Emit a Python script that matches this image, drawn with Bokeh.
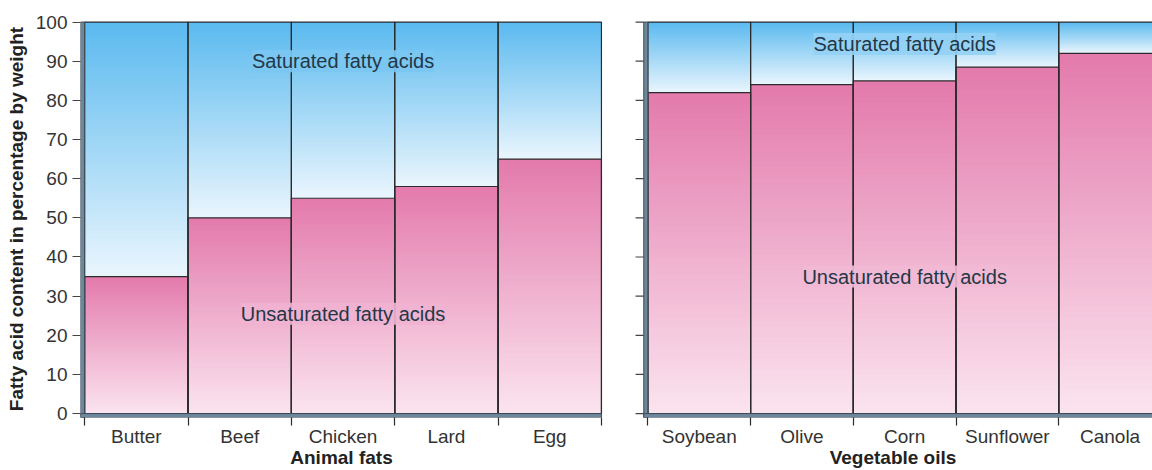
import numpy as np
from bokeh.plotting import figure
from bokeh.models import FixedTicker, Label
from bokeh.layouts import row
from bokeh.embed import file_html
from bokeh.resources import INLINE

# ---- data ----
animal_foods = ["Butter", "Beef", "Chicken", "Lard", "Egg"]
animal_unsaturated = [35, 50, 55, 58, 65]
veg_foods = ["Soybean", "Olive", "Corn", "Sunflower", "Canola"]
veg_unsaturated = [82, 84, 85, 88.5, 92]
y_ticks = [0, 10, 20, 30, 40, 50, 60, 70, 80, 90, 100]
y_title = "Fatty acid content in percentage by weight"
animal_title = "Animal fats"
veg_title = "Vegetable oils"
sat_text = "Saturated fatty acids"
unsat_text = "Unsaturated fatty acids"

# ---- style ----
FONT = "Liberation Sans"
BLUE_TOP = (0x5a, 0xb9, 0xef)
BLUE_BOT = (0xea, 0xf6, 0xfd)
PINK_TOP = (0xe3, 0x7a, 0xac)
PINK_BOT = (0xfb, 0xe4, 0xef)
AXIS_COL = "#6f879b"
EDGE_COL = "#3b4b59"
DARK = "#2b2b2b"
BAND = 0.04      # thickness of the left frame band, in x units
TICK_W = 0.08    # length of hand-drawn ticks (right panel), in x units


def mix(c1, c2, t):
    return "#%02x%02x%02x" % tuple(int(round(a + (b - a) * t)) for a, b in zip(c1, c2))


def make_panel(foods, unsat, title, width, x_start, x_end, min_left, min_right,
               labels, axis_y):
    p = figure(width=width, height=470, x_range=(x_start, x_end), y_range=(-1, 100.4),
               output_backend="svg", toolbar_location=None,
               y_axis_location="left" if axis_y else None,
               min_border_left=min_left, min_border_right=min_right,
               min_border_top=20, min_border_bottom=0)
    p.outline_line_color = None
    p.grid.visible = False
    p.background_fill_color = "white"

    N = 60
    L, R, B, T, C = [], [], [], [], []
    for i, v in enumerate(unsat):
        s = 100 - v
        # strips drawn top-down of each segment so overlaps stay hidden
        for k in range(N):
            L.append(i); R.append(i + 1)
            B.append(v * k / N); T.append(min(v, v * (k + 1) / N + 0.35))
            C.append(mix(PINK_BOT, PINK_TOP, (k + 0.5) / N))
        for k in range(N):
            L.append(i); R.append(i + 1)
            B.append(v + s * k / N); T.append(min(100, v + s * (k + 1) / N + 0.35))
            C.append(mix(BLUE_BOT, BLUE_TOP, (k + 0.5) / N))
    p.quad(left=L, right=R, bottom=B, top=T, fill_color=C, line_color=None)

    n = len(foods)
    idx = list(range(n))
    p.quad(left=idx, right=[i + 1 for i in idx], bottom=[0] * n, top=unsat,
           fill_color=None, line_color=DARK, line_width=1.2)
    p.quad(left=idx, right=[i + 1 for i in idx], bottom=[0] * n, top=[100] * n,
           fill_color=None, line_color=DARK, line_width=1.2)

    # frame bands (left and bottom)
    p.quad(left=[-BAND], right=[0], bottom=[-1], top=[100],
           fill_color=AXIS_COL, line_color=EDGE_COL, line_width=1)
    p.quad(left=[-BAND], right=[n], bottom=[-1], top=[0],
           fill_color=AXIS_COL, line_color=EDGE_COL, line_width=1)

    # x axis: labels at centres, ticks at boundaries
    xa = p.xaxis[0]
    xa.ticker = FixedTicker(ticks=[i + 0.5 for i in idx], minor_ticks=list(range(n + 1)))
    xa.major_label_overrides = {i + 0.5: f for i, f in enumerate(foods)}
    xa.axis_line_color = None
    xa.major_tick_line_color = None
    xa.major_tick_out = 0
    xa.major_tick_in = 0
    xa.minor_tick_out = 8
    xa.minor_tick_in = 0
    xa.minor_tick_line_color = DARK
    xa.minor_tick_line_width = 1.2
    xa.major_label_standoff = 0
    xa.major_label_text_font = FONT
    xa.major_label_text_font_size = "19px"
    xa.major_label_text_color = "#333333"
    xa.axis_label = title
    xa.axis_label_text_font = FONT
    xa.axis_label_text_font_size = "19px"
    xa.axis_label_text_font_style = "bold"
    xa.axis_label_text_color = "#222222"
    xa.axis_label_standoff = -3

    if axis_y:
        ya = p.yaxis[0]
        ya.ticker = FixedTicker(ticks=y_ticks)
        ya.axis_line_color = None
        ya.major_tick_out = 8
        ya.major_tick_in = 0
        ya.major_tick_line_color = "#444444"
        ya.major_tick_line_width = 1.2
        ya.major_label_text_font = FONT
        ya.major_label_text_font_size = "19px"
        ya.major_label_text_color = "#333333"
        ya.major_label_standoff = 5
        ya.axis_label = y_title
        ya.axis_label_text_font = FONT
        ya.axis_label_text_font_size = "19px"
        ya.axis_label_text_font_style = "bold"
        ya.axis_label_text_color = "#222222"
        ya.axis_label_standoff = 6
    else:
        # unlabelled ticks drawn at the y tick values
        p.segment(x0=[-BAND - TICK_W] * len(y_ticks), x1=[-BAND] * len(y_ticks),
                  y0=y_ticks, y1=y_ticks, line_color="#444444", line_width=1.2)

    for (x, y, txt, bg) in labels:
        p.add_layout(Label(x=x, y=y, text=txt, text_align="center", text_baseline="middle",
                           text_font=FONT, text_font_size="20px", text_color="#243746",
                           background_fill_color=bg, background_fill_alpha=0.9))
    return p


p1 = make_panel(animal_foods, animal_unsaturated, animal_title,
                width=633, x_start=-BAND, x_end=5.01, min_left=80, min_right=31,
                labels=[(2.5, 90, sat_text, mix(BLUE_BOT, BLUE_TOP, 0.78)),
                        (2.5, 25.5, unsat_text, mix(PINK_BOT, PINK_TOP, 0.47))],
                axis_y=True)
p2 = make_panel(veg_foods, veg_unsaturated, veg_title,
                width=519, x_start=-BAND - TICK_W - 0.02, x_end=4.913, min_left=0, min_right=0,
                labels=[(2.5, 94.4, sat_text, mix(BLUE_BOT, BLUE_TOP, 0.6)),
                        (2.5, 35, unsat_text, mix(PINK_BOT, PINK_TOP, 0.41))],
                axis_y=False)

layout = row(p1, p2)
open("out.html", "w").write(file_html(layout, INLINE))
